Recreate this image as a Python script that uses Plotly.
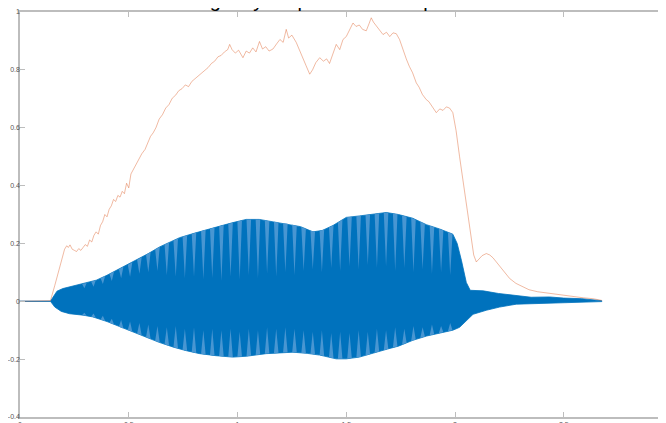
import numpy as np
import plotly.graph_objects as go

# ---------------- data ----------------
title_text = "Signal y Amplitude Envelope"

# outer upper edge of the blue waveform
t_hi = [0.000, 0.140, 0.150, 0.170, 0.197, 0.230, 0.259, 0.300, 0.351, 0.400, 0.458, 0.500,
        0.535, 0.590, 0.642, 0.690, 0.734, 0.800, 0.857, 0.920, 0.979, 1.040, 1.100, 1.163,
        1.230, 1.290, 1.347, 1.390, 1.439, 1.500, 1.560, 1.607, 1.684, 1.740, 1.806, 1.868,
        1.929, 1.990, 2.010, 2.030, 2.052, 2.070, 2.130, 2.200, 2.282, 2.350, 2.435, 2.500,
        2.583, 2.640, 2.675]
v_hi = [0.000, 0.000, 0.012, 0.035, 0.044, 0.050, 0.055, 0.062, 0.073, 0.090, 0.113, 0.128,
        0.142, 0.165, 0.188, 0.205, 0.220, 0.235, 0.248, 0.260, 0.272, 0.283, 0.283, 0.275,
        0.268, 0.258, 0.240, 0.245, 0.262, 0.290, 0.295, 0.300, 0.307, 0.300, 0.287, 0.265,
        0.250, 0.232, 0.200, 0.140, 0.065, 0.038, 0.036, 0.027, 0.021, 0.014, 0.015, 0.011,
        0.009, 0.006, 0.002]

# outer lower edge of the blue waveform
t_lo = [0.000, 0.140, 0.160, 0.190, 0.228, 0.290, 0.335, 0.400, 0.458, 0.520, 0.581, 0.640,
        0.703, 0.760, 0.826, 0.900, 0.979, 1.040, 1.132, 1.193, 1.255, 1.320, 1.378, 1.454,
        1.500, 1.560, 1.623, 1.690, 1.740, 1.806, 1.870, 1.929, 1.990, 2.021, 2.052, 2.083,
        2.144, 2.205, 2.282, 2.400, 2.550, 2.675]
v_lo = [0.000, 0.000, -0.020, -0.035, -0.043, -0.048, -0.054, -0.070, -0.089, -0.106, -0.124, -0.142,
        -0.158, -0.170, -0.181, -0.188, -0.193, -0.190, -0.181, -0.178, -0.176, -0.180, -0.186, -0.199,
        -0.199, -0.193, -0.180, -0.165, -0.155, -0.135, -0.120, -0.110, -0.100, -0.090, -0.066, -0.045,
        -0.031, -0.020, -0.010, -0.006, -0.004, -0.001]

# lighter vertical stripes of the waveform: centre and how far they reach in
t_stripes = [0.296, 0.338, 0.381, 0.422, 0.465, 0.506, 0.549, 0.590, 0.632, 0.675, 0.716,
             0.758, 0.800, 0.843, 0.884, 0.926, 0.968, 1.010, 1.052, 1.094, 1.136, 1.178,
             1.220, 1.262, 1.304, 1.346, 1.388, 1.431, 1.472, 1.515, 1.557, 1.599, 1.641,
             1.683, 1.725, 1.767, 1.809, 1.851, 1.894, 1.936, 1.978]
stripe_top = [0.045, 0.050, 0.060, 0.070, 0.080, 0.085, 0.095, 0.100, 0.105, 0.090, 0.085,
              0.080, 0.085, 0.075, 0.080, 0.070, 0.085, 0.075, 0.090, 0.080, 0.095, 0.085,
              0.100, 0.090, 0.105, 0.110, 0.100, 0.115, 0.105, 0.120, 0.110, 0.125, 0.115,
              0.120, 0.105, 0.115, 0.100, 0.110, 0.095, 0.100, 0.090]
stripe_bot = [-0.040, -0.042, -0.050, -0.060, -0.065, -0.070, -0.075, -0.080, -0.085, -0.090, -0.085,
              -0.095, -0.090, -0.100, -0.095, -0.100, -0.095, -0.105, -0.095, -0.100, -0.090, -0.095,
              -0.090, -0.095, -0.100, -0.105, -0.100, -0.110, -0.105, -0.110, -0.100, -0.105, -0.095,
              -0.100, -0.090, -0.095, -0.085, -0.090, -0.080, -0.085, -0.075]

# envelope (orange line)
t_env = [0.000, 0.100, 0.140, 0.160, 0.185, 0.205, 0.215, 0.222, 0.230, 0.240, 0.250, 0.260,
         0.270, 0.280, 0.290, 0.300, 0.310, 0.320, 0.330, 0.340, 0.350, 0.360, 0.370, 0.380,
         0.390, 0.400, 0.410, 0.420, 0.430, 0.440, 0.450, 0.460, 0.470, 0.480, 0.490, 0.500,
         0.510, 0.520, 0.530, 0.545, 0.560, 0.575, 0.590, 0.600, 0.612, 0.625, 0.640, 0.655,
         0.670, 0.685, 0.700, 0.715, 0.730, 0.745, 0.760, 0.775, 0.790, 0.805, 0.820, 0.835,
         0.850, 0.865, 0.880, 0.895, 0.910, 0.925, 0.940, 0.955, 0.964, 0.975, 0.990, 1.005,
         1.025, 1.040, 1.055, 1.070, 1.085, 1.101, 1.115, 1.130, 1.145, 1.163, 1.180, 1.195,
         1.210, 1.224, 1.235, 1.250, 1.270, 1.285, 1.300, 1.315, 1.332, 1.345, 1.360, 1.378,
         1.395, 1.410, 1.423, 1.440, 1.454, 1.470, 1.485, 1.500, 1.515, 1.531, 1.545, 1.560,
         1.575, 1.592, 1.605, 1.615, 1.625, 1.640, 1.655, 1.669, 1.685, 1.700, 1.715, 1.730,
         1.745, 1.760, 1.776, 1.790, 1.805, 1.822, 1.835, 1.850, 1.868, 1.880, 1.895, 1.914,
         1.930, 1.945, 1.960, 1.975, 1.990, 2.005, 2.021, 2.036, 2.052, 2.063, 2.075, 2.086,
         2.098, 2.110, 2.125, 2.144, 2.160, 2.175, 2.190, 2.210, 2.230, 2.251, 2.280, 2.310,
         2.340, 2.380, 2.435, 2.490, 2.543, 2.590, 2.634, 2.675]
v_env = [0.000, 0.000, 0.002, 0.055, 0.125, 0.180, 0.192, 0.186, 0.195, 0.180, 0.176, 0.172,
         0.182, 0.176, 0.186, 0.196, 0.190, 0.212, 0.205, 0.228, 0.240, 0.232, 0.262, 0.275,
         0.300, 0.292, 0.318, 0.330, 0.352, 0.345, 0.366, 0.360, 0.380, 0.372, 0.408, 0.392,
         0.440, 0.455, 0.470, 0.492, 0.510, 0.525, 0.555, 0.570, 0.582, 0.600, 0.630, 0.645,
         0.668, 0.680, 0.702, 0.712, 0.728, 0.735, 0.748, 0.742, 0.760, 0.770, 0.778, 0.790,
         0.800, 0.808, 0.822, 0.830, 0.845, 0.850, 0.862, 0.870, 0.888, 0.870, 0.858, 0.868,
         0.842, 0.865, 0.858, 0.876, 0.862, 0.898, 0.872, 0.880, 0.865, 0.872, 0.890, 0.905,
         0.895, 0.940, 0.910, 0.920, 0.895, 0.870, 0.840, 0.815, 0.785, 0.800, 0.825, 0.842,
         0.830, 0.838, 0.822, 0.860, 0.888, 0.870, 0.905, 0.915, 0.940, 0.962, 0.950, 0.955,
         0.940, 0.935, 0.960, 0.980, 0.965, 0.950, 0.935, 0.922, 0.930, 0.915, 0.928, 0.925,
         0.905, 0.870, 0.838, 0.812, 0.790, 0.755, 0.740, 0.715, 0.697, 0.690, 0.672, 0.652,
         0.665, 0.660, 0.672, 0.668, 0.652, 0.590, 0.500, 0.420, 0.350, 0.280, 0.211, 0.160,
         0.136, 0.145, 0.158, 0.165, 0.160, 0.150, 0.136, 0.115, 0.096, 0.079, 0.062, 0.050,
         0.040, 0.033, 0.027, 0.021, 0.016, 0.012, 0.009, 0.003]

x_ticks = [0, 0.5, 1, 1.5, 2, 2.5, 3]
x_labels = ["0", "0.5", "1", "1.5", "2", "2.5", "3"]
y_ticks = [-0.4, -0.2, 0, 0.2, 0.4, 0.6, 0.8, 1]
y_labels = ["-0.4", "-0.2", "0", "0.2", "0.4", "0.6", "0.8", "1"]

# ---------------- styling ----------------
DARK = "#0072BD"
LIGHT = "rgb(72,150,210)"
ENV = "rgba(217,83,25,0.40)"
AX = "#bdbdbd"
STRIPE_HALF = 0.0105

fig = go.Figure()

# waveform body
fig.add_trace(go.Scatter(
    x=t_hi + t_lo[::-1], y=v_hi + v_lo[::-1],
    mode="lines", fill="toself", fillcolor=DARK,
    line=dict(color=DARK, width=0.8), hoverinfo="skip", showlegend=False))

# lighter stripes (wedges reaching in from the outer edges)
sx, sy = [], []
for tc, dt, db in zip(t_stripes, stripe_top, stripe_bot):
    a, b = tc - STRIPE_HALF, tc + STRIPE_HALF
    sx += [a, tc, b, None]
    sy += [float(np.interp(a, t_hi, v_hi)), dt, float(np.interp(b, t_hi, v_hi)), None]
    sx += [a, tc, b, None]
    sy += [float(np.interp(a, t_lo, v_lo)), db, float(np.interp(b, t_lo, v_lo)), None]
fig.add_trace(go.Scatter(
    x=sx, y=sy, mode="lines", fill="toself", fillcolor=LIGHT,
    line=dict(width=0, color=LIGHT), hoverinfo="skip", showlegend=False))

# envelope
fig.add_trace(go.Scatter(
    x=t_env, y=v_env, mode="lines",
    line=dict(color=ENV, width=1.0), hoverinfo="skip", showlegend=False))

tickfont = dict(family="Liberation Sans, Arial, sans-serif", size=7, color="#555555")

# the page body adds an 8px offset, so margins are reduced by that amount
fig.update_layout(
    width=666, height=423,
    margin=dict(l=12, r=8, t=4, b=14, autoexpand=False),
    paper_bgcolor="white", plot_bgcolor="white",
    xaxis=dict(range=[0, 646 / 217.5], tickvals=x_ticks, ticktext=x_labels,
               showgrid=False, zeroline=False, showline=True, linecolor=AX, linewidth=1.5,
               mirror="ticks", ticks="inside", ticklen=5, tickcolor=AX, tickwidth=1,
               tickfont=tickfont, fixedrange=True, automargin=False),
    yaxis=dict(range=[-0.4, 1], tickvals=y_ticks, ticktext=y_labels,
               showgrid=False, zeroline=False, showline=True, linecolor=AX, linewidth=1.5,
               ticks="inside", ticklen=5, tickcolor=AX, tickwidth=1, ticklabelstandoff=-3,
               tickfont=tickfont, fixedrange=True, automargin=False),
    annotations=[dict(text=title_text, xref="paper", yref="paper", x=(319 - 20) / 646, y=1,
                      xanchor="center", yanchor="bottom", yshift=-1, showarrow=False,
                      font=dict(family="Liberation Sans, Arial, sans-serif", size=20, color="black"))],
)

fig.write_html("out.html")
